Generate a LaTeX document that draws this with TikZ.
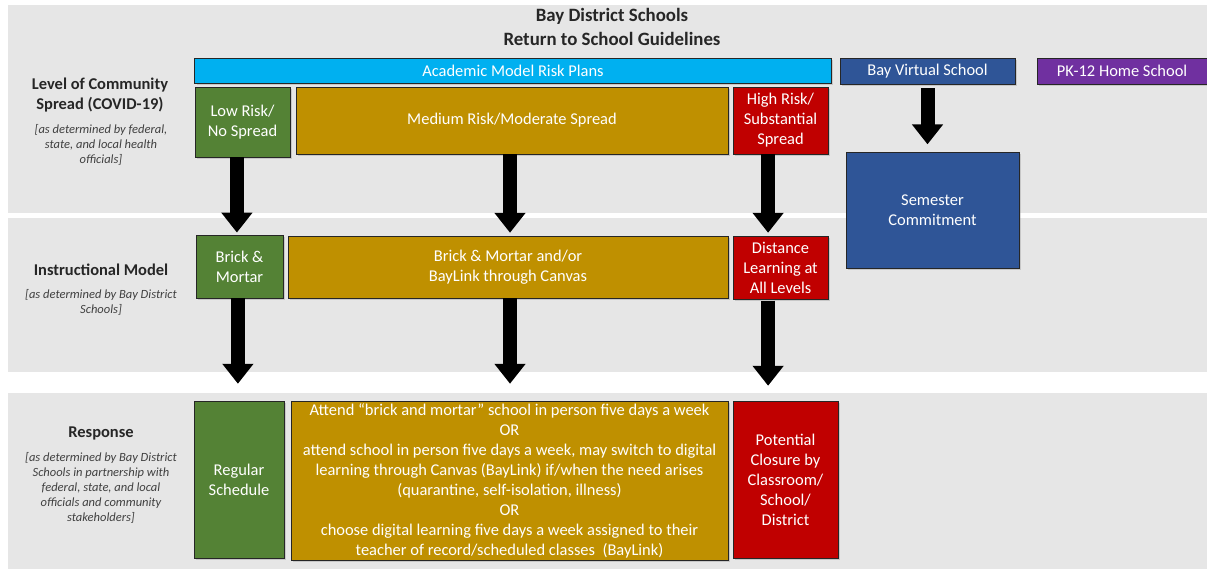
\documentclass[tikz,border=0pt]{standalone}
\usepackage{fontspec}
\setmainfont{Carlito}
\usepackage{xcolor}
\usetikzlibrary{arrows.meta,positioning,shadows}
\definecolor{bandgray}{HTML}{E6E6E6}
\definecolor{riskcyan}{HTML}{00B0F0}
\definecolor{virtblue}{HTML}{2F5597}
\definecolor{homepurple}{HTML}{7030A0}
\definecolor{lowgreen}{HTML}{548235}
\definecolor{medgold}{HTML}{BF9000}
\definecolor{highred}{HTML}{C00000}
\definecolor{notegray}{HTML}{404040}

\tikzset{
  riskbox/.style={draw=black!85, line width=0.6pt, text=white, align=center, inner sep=0pt,
    font=\fontsize{11.7}{14.2}\selectfont,
    drop shadow={shadow xshift=0.06cm, shadow yshift=-0.06cm, opacity=0.3}},
  bigarrow/.style={line width=0.35cm, -{Triangle[width=0.75cm,length=0.5cm]}},
  rowlabel/.style={align=center, font=\fontsize{11.7}{14.2}\selectfont\bfseries, text=black!85},
  rownote/.style={align=center, font=\fontsize{8.9}{10.7}\selectfont\itshape, text=notegray},
}

\begin{document}
\begin{tikzpicture}[x=0.025cm,y=-0.025cm]
\useasboundingbox (0,0) rectangle (1207,572);
\fill[bandgray] (8,5) rectangle (1207,213);
\fill[bandgray] (8,218) rectangle (1207,372);
\fill[bandgray] (8,393) rectangle (1207,569);
\node[align=center, font=\fontsize{13.4}{16.5}\selectfont\bfseries, text=black!85] (title) at (612,27)
  {Bay District Schools\\Return to School Guidelines};
%%%%%%%%%%%%%%%%
\node[rowlabel] (spread) at (100,95) {Level of Community\\Spread (COVID-19)};
\node[rownote] (spreadnote) at (101,145) {[as determined by federal,\\state, and local health\\officials]};
\node[rowlabel] (instr) at (101,270) {Instructional Model};
\node[rownote] (instrnote) at (101,302) {[as determined by Bay District\\Schools]};
\node[rowlabel] (resp) at (101,433) {Response};
\node[rownote] (respnote) at (101,488) {[as determined by Bay District\\Schools in partnership with\\federal, state, and local\\officials and community\\stakeholders]};
%%%%%%%%%%%%%%%%
\node[riskbox, fill=riskcyan, minimum width=15.9cm, minimum height=0.625cm] (plans) at (513,70.5) {Academic Model Risk Plans};
\node[riskbox, fill=virtblue, minimum width=4.375cm, minimum height=0.65cm] (bvs) at (927.5,71) {Bay Virtual School};
\node[riskbox, fill=homepurple, minimum width=4.25cm, minimum height=0.65cm] (home) at (1122,71) {PK-12 Home School};
%%%%%%%%%%%%%%%%
\node[riskbox, fill=lowgreen, minimum width=2.375cm, minimum height=1.75cm] (low) at (242.5,122) {Low Risk/\\No Spread};
\node[riskbox, fill=medgold, minimum width=10.8cm, minimum height=1.675cm] (med) at (512,120.5) {Medium Risk/Moderate Spread};
\node[riskbox, fill=highred, minimum width=2.375cm, minimum height=1.675cm] (high) at (780.5,120.5) {High Risk/\\Substantial\\Spread};
\node[riskbox, fill=virtblue, minimum width=4.325cm, minimum height=2.9cm] (sem) at (932.5,210) {Semester\\Commitment};
%%%%%%%%%%%%%%%%
\node[riskbox, fill=lowgreen, minimum width=2.175cm, minimum height=1.575cm] (brick) at (239.5,266.5) {Brick \&\\Mortar};
\node[riskbox, fill=medgold, minimum width=11cm, minimum height=1.55cm] (blend) at (508,267) {Brick \& Mortar and/or\\BayLink through Canvas};
\node[riskbox, fill=highred, minimum width=2.375cm, minimum height=1.575cm] (dist) at (780.5,267.5) {Distance\\Learning at\\All Levels};
%%%%%%%%%%%%%%%%
\node[riskbox, fill=lowgreen, minimum width=2.25cm, minimum height=3.925cm] (reg) at (239,479.5) {Regular\\Schedule};
\node[riskbox, fill=medgold, minimum width=10.925cm, minimum height=3.975cm] (opts) at (509.5,480.5)
  {Attend “brick and mortar” school in person five days a week\\OR\\attend school in person five days a week, may switch to digital\\learning through Canvas (BayLink) if/when the need arises\\(quarantine, self-isolation, illness)\\OR\\choose digital learning five days a week assigned to their\\teacher of record/scheduled classes\ \ (BayLink)};
\node[riskbox, fill=highred, minimum width=2.625cm, minimum height=3.925cm] (clos) at (785.5,479.5) {Potential\\Closure by\\Classroom/\\School/\\District};
%%%%%%%%%%%%%%%%
\draw[bigarrow, shorten >=0.05cm] ([xshift=-0.14cm]low.south) -- ([xshift=-0.14cm]low.south |- brick.north);
\draw[bigarrow, shorten >=0.07cm] ([xshift=-0.05cm]med.south) -- ([xshift=-0.05cm]med.south |- blend.north);
\draw[bigarrow, shorten >=0.07cm] ([xshift=-0.31cm]high.south) -- ([xshift=-0.31cm]high.south |- dist.north);
\draw[bigarrow, shorten <=0.1cm, shorten >=0.18cm] (bvs.south) -- (bvs.south |- sem.north);
%%%%%%%%%%%%%%%%
\draw[bigarrow, shorten >=0.42cm] ([xshift=-0.04cm]brick.south) -- ([xshift=-0.04cm]brick.south |- reg.north);
\draw[bigarrow, shorten >=0.42cm] ([xshift=0.05cm]blend.south) -- ([xshift=0.05cm]blend.south |- opts.north);
\draw[bigarrow, shorten <=0.03cm, shorten >=0.37cm] ([xshift=-0.31cm]dist.south) -- ([xshift=-0.31cm]dist.south |- clos.north);
\end{tikzpicture}
\end{document}
